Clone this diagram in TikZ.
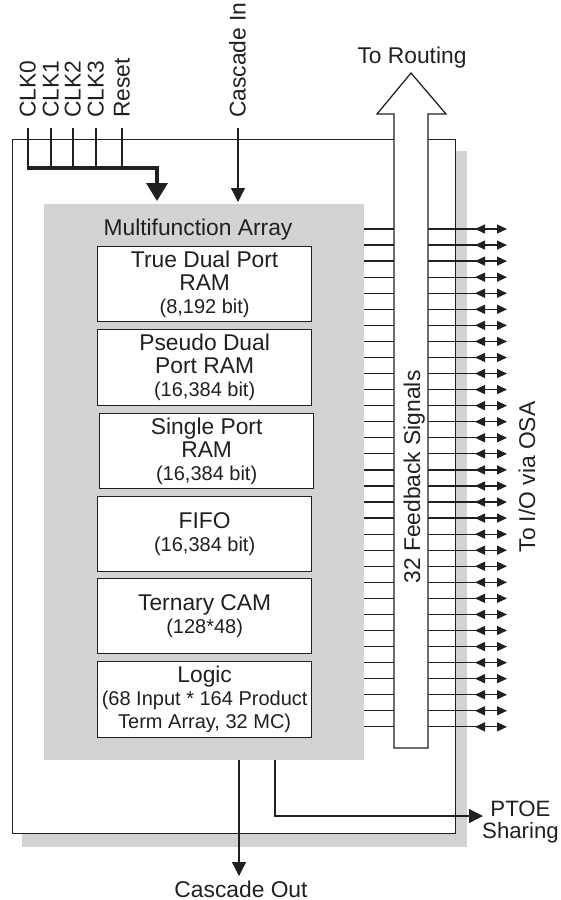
\documentclass[tikz,border=0pt]{standalone}
\usepackage{fontspec}
\setmainfont{Liberation Sans}
\usetikzlibrary{arrows.meta}
\definecolor{ink}{HTML}{231F20}
\definecolor{panel}{HTML}{D1D3D4}
\newcommand\bigf{\fontsize{22.8}{23}\selectfont}
\newcommand\smf{\fontsize{20}{23}\selectfont}
\newcommand\ptf{\fontsize{22.2}{21.5}\selectfont}
\tikzset{
  wire/.style={line width=1.25pt, draw=ink},
  arr/.style={wire, -{Triangle[length=14pt,width=14pt]}},
  smalltip/.style={wire, -{Triangle[length=10pt,width=9pt]}},
  bus/.style={line width=3.6pt, draw=ink, -{Triangle[length=18pt,width=21pt]}},
  blk/.style={draw=ink, fill=white, line width=1.3pt, minimum width=214pt,
    minimum height=75pt, align=center, inner sep=0pt, anchor=north west, font=\bigf},
  rotlab/.style={rotate=90, anchor=base west, inner sep=0pt, font=\bigf},
  lab/.style={inner sep=0pt, font=\bigf}
}
\begin{document}
\begin{tikzpicture}[x=1pt,y=-1pt,color=ink,font=\bigf]
\useasboundingbox (0,0) rectangle (560,900);
% drop shadow and frame
\fill[panel] (22,151) rectangle (467,847);
\node[draw=ink, fill=white, line width=1.25pt, inner sep=0pt, anchor=north west,
  minimum width=443pt, minimum height=694pt] (frame) at (12,139) {};
% multifunction array
\node[fill=panel, inner sep=0pt, anchor=north west, minimum width=320pt,
  minimum height=556pt] (ma) at (44,204) {};
\node[lab, anchor=base] (matitle) at (198,235) {Multifunction Array};
\node[blk] (b1) at (97,246) {True Dual Port\\RAM\\{\smf (8,192 bit)}};
\node[blk, minimum height=76pt] (b2) at (97,329) {Pseudo Dual\\Port RAM\\{\smf (16,384 bit)}};
\node[blk] (b3) at (99,413) {Single Port\\RAM\\{\smf (16,384 bit)}};
\node[blk] (b4) at (97,496) {FIFO\\{\smf (16,384 bit)}};
\node[blk] (b5) at (97,578) {Ternary CAM\\{\smf (128*48)}};
\node[blk, minimum height=76pt] (b6) at (97,661) {Logic\\{\smf (68 Input * 164 Product}\\{\smf Term Array, 32 MC)}};
% signal lines
\foreach \i in {0,...,31}{
  \pgfmathsetmacro\yy{229+\i*16.06}
  \coordinate (sa\i) at (364,\yy);
  \coordinate (sb\i) at (394,\yy);
  \coordinate (sc\i) at (428,\yy);
  \coordinate (sd\i) at (507,\yy);
  \coordinate (se\i) at (485,\yy);
  \coordinate (sf\i) at (475,\yy);
  \draw[wire] (sa\i) -- (sb\i);
  \draw[smalltip] (sc\i) -- (sd\i);
  \draw[smalltip] (se\i) -- (sf\i);
}
% feedback box with arrow to routing
\draw[wire, fill=white] (394,748) -- (394,114) -- (377,114) -- (411,73)
  -- (446,114) -- (428,114) -- (428,748) -- cycle;
\node[lab, rotate=90, anchor=base] (fbtxt) at (420,477) {32 Feedback Signals};
\node[lab, anchor=base] (torout) at (412,63) {To Routing};
\node[lab, rotate=90, anchor=base] (toio) at (535,477) {To I/O via OSA};
% clock and reset inputs
\node[rotlab] (clk0) at (35.5,118) {CLK0};
\node[rotlab] (clk1) at (58.5,118) {CLK1};
\node[rotlab] (clk2) at (80.5,118) {CLK2};
\node[rotlab] (clk3) at (103.5,118) {CLK3};
\node[rotlab] (rst) at (129.5,118) {Reset};
\node[rotlab] (cin) at (245.5,118) {Cascade In};
\foreach \n/\x in {k0/28,k1/51,k2/73,k3/96,k4/122}{
  \coordinate (\n t) at (\x,128);
  \coordinate (\n b) at (\x,168);
  \draw[wire] (\n t) -- (\n b);
}
\coordinate (kstart) at (26.5,168);
\coordinate (kbend) at (157,168);
\coordinate (kin) at (157,201);
\draw[bus] (kstart) -- (kbend) -- (kin);
% cascade in
\coordinate (cint) at (238,128);
\coordinate (cinb) at (238,202);
\draw[arr] (cint) -- (cinb);
% cascade out
\coordinate (cot) at (239,760);
\coordinate (cob) at (239,876);
\draw[arr] (cot) -- (cob);
\node[lab, anchor=base] (cout) at (241,897) {Cascade Out};
% PTOE sharing
\coordinate (pt1) at (275,760);
\coordinate (pt2) at (275,816);
\coordinate (pt3) at (483,816);
\draw[arr] (pt1) -- (pt2) -- (pt3);
\node[inner sep=0pt, font=\ptf, align=center, anchor=north] (ptoe) at (520.5,801) {PTOE\\Sharing};
\end{tikzpicture}
\end{document}
